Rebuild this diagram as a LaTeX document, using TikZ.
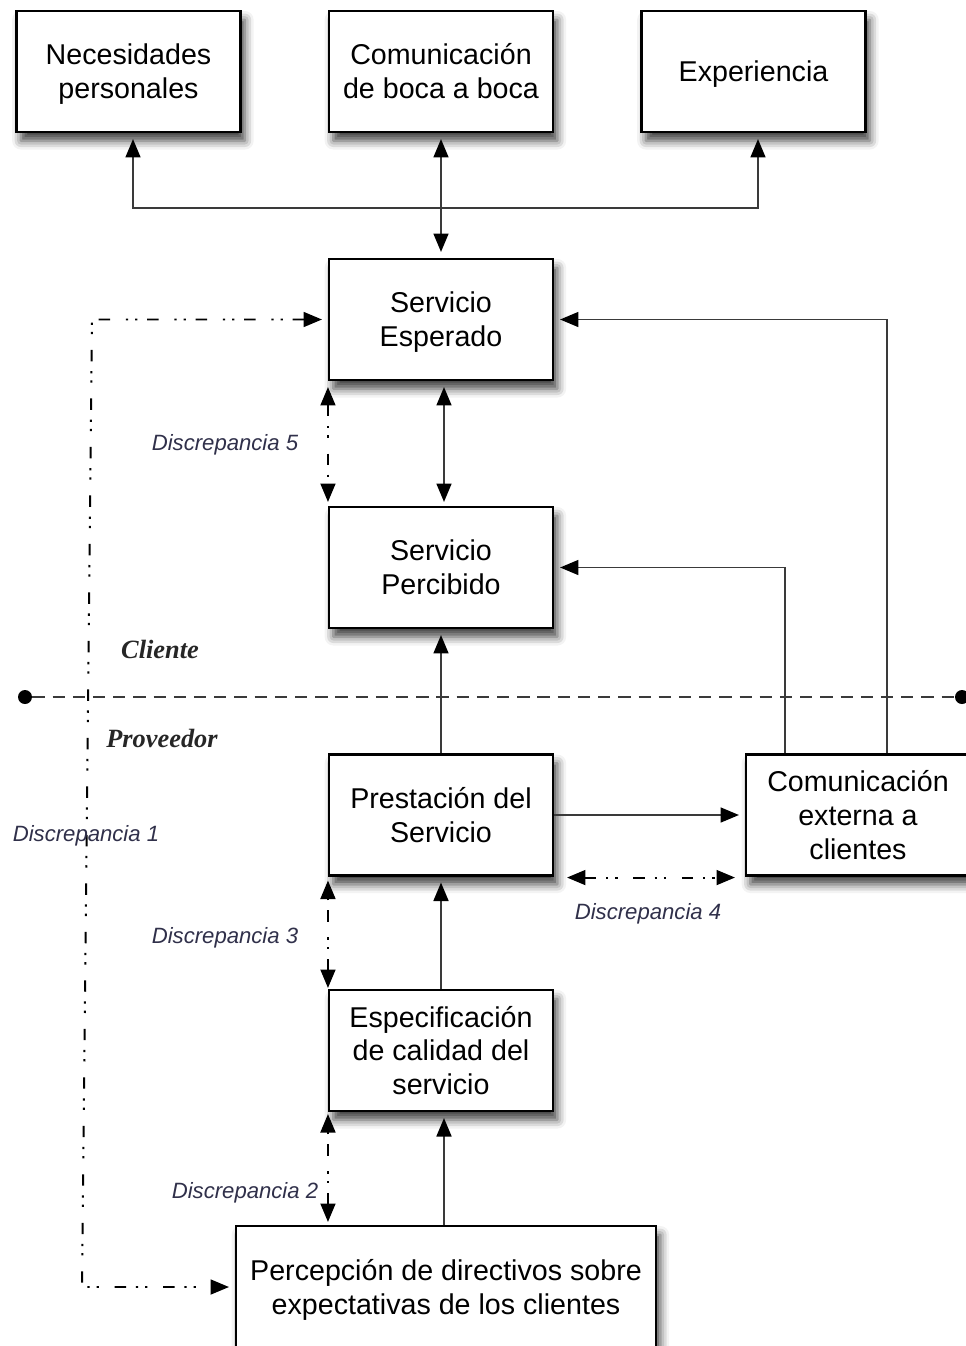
\documentclass[tikz,border=0pt]{standalone}
\usepackage{fontspec}
\setmainfont{Liberation Sans}
\newfontfamily\labelserif{Liberation Serif}
\usetikzlibrary{arrows.meta,shadows.blur}
\definecolor{linegray}{HTML}{3A3A3A}
\definecolor{labelcol}{HTML}{30304A}
\newcommand{\nodp}[1]{\raisebox{0pt}[\height][0pt]{#1}}
\tikzset{
  tip/.tip={Triangle[length=10.5pt,width=8.5pt,color=black]},
  box/.style={draw, line width=1.2pt, fill=white, align=center, inner sep=0pt,
    font=\fontsize{16.3}{19.3}\selectfont, minimum width=4.48cm, minimum height=2.42cm,
    blur shadow={shadow xshift=2.5pt, shadow yshift=-5pt, shadow blur radius=5pt, shadow opacity=75}},
  conn/.style={draw=linegray, line width=1.1pt, arrows={-tip}},
  bothconn/.style={conn, arrows={tip-tip}},
  dd/.style={draw=black, line width=1.1pt,
    dash pattern=on 6.5pt off 5.5pt on 1.3pt off 4pt on 1.3pt off 9pt,
    arrows={tip-tip}},
  disclabel/.style={font=\fontsize{12.6}{14}\selectfont\itshape, text=labelcol, inner sep=0pt},
  sidelabel/.style={font=\fontsize{15}{18}\selectfont\labelserif\bfseries\itshape, text=black!85, inner sep=0pt},
  enddot/.style={circle, fill=black, inner sep=0pt, minimum size=0.28cm},
  gap/.style={shorten >=0.12cm},
  gaps/.style={shorten >=0.12cm, shorten <=0.12cm}
}
\begin{document}
\begin{tikzpicture}[x=0.02cm, y=-0.02cm]
\useasboundingbox (0,0) rectangle (966,1346);

% boxes
\node[box] (nec) at (128.5,71.5) {Necesidades\\\nodp{personales}};
\node[box] (boca) at (441,71.5) {Comunicación\\de boca a boca};
\node[box] (exp) at (753.5,71.5) {\nodp{Experiencia}};
\node[box] (esp) at (441,319.5) {Servicio\\\nodp{Esperado}};
\node[box] (perc) at (441,567.5) {Servicio\\Percibido};
\node[box] (pres) at (441,815) {Prestación del\\Servicio};
\node[box] (cext) at (858,815) {Comunicación\\externa a\\clientes};
\node[box] (espec) at (441,1050.5) {Especificación\\de calidad del\\servicio};
\node[box, minimum width=8.4cm, minimum height=2.44cm] (dir) at (446,1287) {Percepción de directivos sobre\\\nodp{expectativas de los clientes}};

% top connectors
\coordinate (jl) at (133,208);
\coordinate (jr) at (758,208);
\draw[bothconn, gaps] (jl |- nec.south) -- (jl) -- (jr) -- (jr |- exp.south);
\draw[bothconn, gaps] (boca.south) -- (esp.north);

% expected <-> perceived
\draw[bothconn, shorten >=0.08cm, shorten <=0.12cm] ([xshift=0.06cm]esp.south) -- ([xshift=0.06cm]perc.north);
\draw[dd, shorten >=0.08cm, shorten <=0.12cm] (esp.south west) -- (perc.north west);

% Discrepancia 1 loop
\coordinate (d1top) at (92,319.5);
\coordinate (d1bot) at (82,1287);
\draw[dd, gaps] (esp.west) -- (d1top) -- (d1bot) -- (dir.west);

% client / provider line
\node[enddot] (cl) at (25,697) {};
\node[enddot] (cr) at (962,697) {};
\draw[draw=linegray, line width=1.1pt, dash pattern=on 7pt off 4.5pt] (cl) -- (cr);

% provider side
\draw[conn, gap] (pres.north) -- (perc.south);
\draw[conn, gap] (pres.east) -- (cext.west);
\draw[dd, shorten <=0.26cm, shorten >=0.2cm] ([yshift=-0.02cm]pres.south east) -- ([yshift=-0.02cm]cext.south west);
\draw[conn, gap] ([xshift=0.8cm]cext.north west) |- (perc.east);
\draw[conn, gap] ([xshift=2.84cm]cext.north west) |- (esp.east);
\draw[conn, gap] (espec.north) -- (pres.south);
\draw[dd, shorten <=0.02cm, shorten >=0.08cm] (espec.north west) -- (pres.south west);
\draw[conn, gap] ([xshift=-0.04cm]dir.north) -- ([xshift=-0.04cm]dir.north |- espec.south);
\draw[dd, shorten <=0.06cm, shorten >=0.04cm] (dir.north -| espec.west) -- (espec.south west);

% labels
\node[disclabel] (l5) at (225,445) {Discrepancia 5};
\node[disclabel] (l3) at (225,938) {Discrepancia 3};
\node[disclabel] (l2) at (245,1193) {Discrepancia 2};
\node[disclabel] (l4) at (648,914) {Discrepancia 4};
\node[disclabel] (l1) at (86,836) {Discrepancia 1};
\node[sidelabel] (lc) at (160,649) {Cliente};
\node[sidelabel] (lp) at (162,738) {Proveedor};
\end{tikzpicture}
\end{document}
